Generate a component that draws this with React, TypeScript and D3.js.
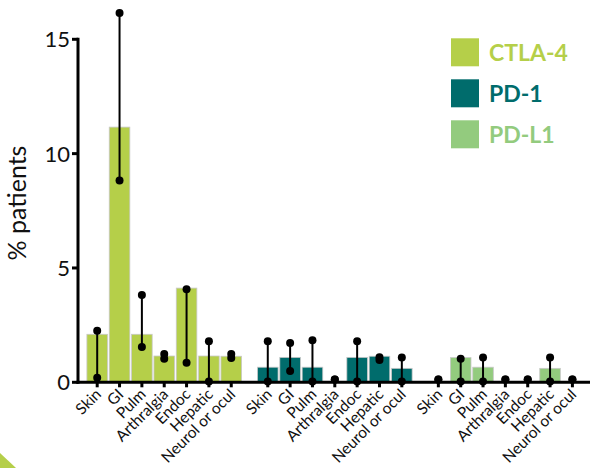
import React from "react";
import * as d3 from "d3";

const groups = ["CTLA-4", "PD-1", "PD-L1"];
const categories = ["Skin", "GI", "Pulm", "Arthralgia", "Endoc", "Hepatic", "Neurol or ocul"];
const colors = ["#b5cf49", "#006c6c", "#93cb7e"];

const ctla4Values = [2.1, 11.16, 2.1, 1.15, 4.12, 1.15, 1.14];
const ctla4Low = [0.2, 8.83, 1.54, 1.03, 0.86, 0.03, 1.06];
const ctla4High = [2.25, 16.15, 3.82, 1.24, 4.07, 1.79, 1.24];

const pd1Values = [0.66, 1.09, 0.66, 0, 1.09, 1.14, 0.61];
const pd1Low = [0.03, 0.49, 0.03, 0.12, 0.03, 0.98, 0.03];
const pd1High = [1.8, 1.72, 1.84, 0.12, 1.79, 1.1, 1.09];

const pdl1Values = [0, 1.08, 0.66, 0, 0, 0.61, 0];
const pdl1Low = [0.12, 0.03, 0.03, 0.12, 0.12, 0.03, 0.12];
const pdl1High = [0.12, 1.03, 1.08, 0.12, 0.12, 1.08, 0.12];

const yTicks = [0, 5, 10, 15];

const seriesValues = [ctla4Values, pd1Values, pdl1Values];
const seriesLow = [ctla4Low, pd1Low, pdl1Low];
const seriesHigh = [ctla4High, pd1High, pdl1High];

const FONT = "Lato, 'Open Sans', sans-serif";

export default function App() {
  const width = 592;
  const height = 468;
  const gapSlots = 0.635;
  const slotsPerGroup = categories.length + gapSlots;
  const x = d3
    .scaleLinear()
    .domain([0, 2 * slotsPerGroup + categories.length - 1])
    .range([97.2, 572.4]);
  const y = d3.scaleLinear().domain([0, 15]).range([382.3, 39.3]);
  const barW = 20.6;

  const points: any[] = [];
  groups.forEach((g, gi) => {
    categories.forEach((c, ci) => {
      points.push({
        g,
        gi,
        c,
        ci,
        cx: x(gi * slotsPerGroup + ci),
        v: seriesValues[gi][ci],
        lo: seriesLow[gi][ci],
        hi: seriesHigh[gi][ci],
      });
    });
  });

  return (
    <svg width={width} height={height} style={{ position: "absolute", left: 0, top: 0, background: "#fff" }}>
      <polygon points={`0,453 0,468 16,468`} fill={colors[0]} />
      {/* bars */}
      {points.map((p, i) =>
        p.v > 0 ? (
          <rect
            key={"b" + i}
            x={p.cx - barW / 2}
            y={y(p.v)}
            width={barW}
            height={y(0) - y(p.v)}
            fill={colors[p.gi]}
            stroke="#c8c8c8"
            strokeWidth={0.8}
          />
        ) : null
      )}
      {/* x axis */}
      <line x1={76.5} x2={590} y1={y(0)} y2={y(0)} stroke="#000" strokeWidth={3} />
      {points.map((p, i) => (
        <line key={"t" + i} x1={p.cx} x2={p.cx} y1={y(0)} y2={y(0) + 5} stroke="#000" strokeWidth={3} />
      ))}
      {/* y axis */}
      <line x1={78} x2={78} y1={y(15) - 1.5} y2={y(0) + 1.5} stroke="#000" strokeWidth={3} />
      {yTicks.map((t) => (
        <g key={"y" + t}>
          <line x1={72} x2={78} y1={y(t)} y2={y(t)} stroke="#000" strokeWidth={3} />
          <text x={70} y={y(t)} dy="0.36em" textAnchor="end" fontSize={22} fontFamily={FONT} fill="#111">
            {t}
          </text>
        </g>
      ))}
      <text
        transform={`translate(26,203) rotate(-90)`}
        textAnchor="middle"
        fontSize={25}
        fontFamily={FONT}
        fill="#111"
      >
        % patients
      </text>
      {/* error bars */}
      {points.map((p, i) => (
        <g key={"e" + i}>
          <line x1={p.cx} x2={p.cx} y1={y(p.lo)} y2={y(p.hi)} stroke="#000" strokeWidth={2} />
          <circle cx={p.cx} cy={y(p.lo)} r={4} fill="#000" />
          <circle cx={p.cx} cy={y(p.hi)} r={4} fill="#000" />
        </g>
      ))}
      {/* x labels */}
      {points.map((p, i) => (
        <text
          key={"l" + i}
          transform={`translate(${p.cx + 5},${y(0) + 13}) rotate(-45)`}
          textAnchor="end"
          fontSize={15.5}
          fontFamily={FONT}
          fill="#111"
        >
          {p.c}
        </text>
      ))}
      {/* legend */}
      {groups.map((g, gi) => (
        <g key={"lg" + gi} transform={`translate(451,${38.3 + gi * 41})`}>
          <rect width={28} height={28} fill={colors[gi]} />
          <text x={38} y={14} dy="0.36em" fontSize={23} fontWeight="bold" fontFamily={FONT} fill={colors[gi]}>
            {g}
          </text>
        </g>
      ))}
    </svg>
  );
}
